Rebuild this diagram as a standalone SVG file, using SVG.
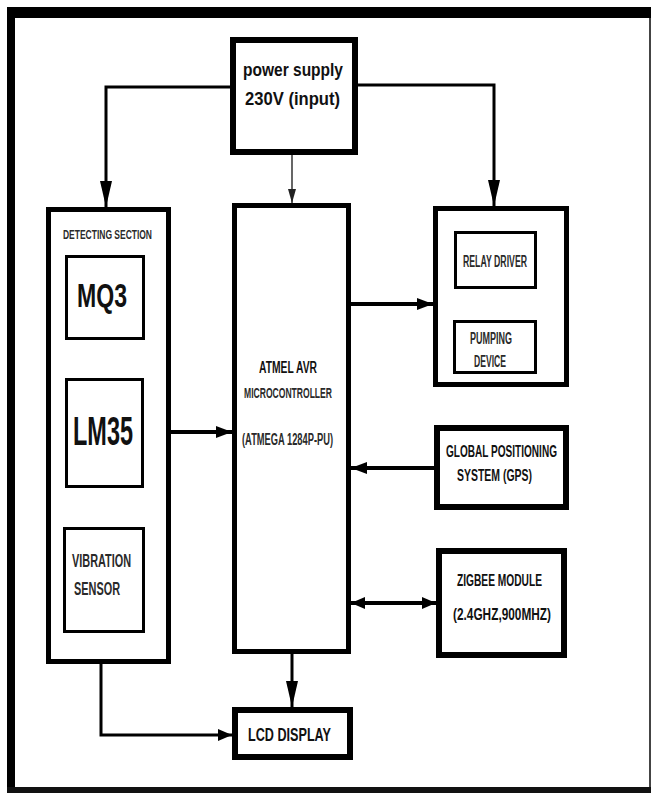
<svg xmlns="http://www.w3.org/2000/svg" width="651" height="793" viewBox="0 0 651 793">
<style>
.box{fill:#fff;stroke:#000}
.t{font-family:"Liberation Sans",Arial,sans-serif;font-weight:bold;fill:#111}
.g{fill:#2a2a2a}
.c{fill:none;stroke:#000}
</style>
<defs>
<marker id="ah" viewBox="0 0 14 12" refX="14" refY="6" markerWidth="14" markerHeight="12" markerUnits="userSpaceOnUse" orient="auto-start-reverse"><path d="M0,0 L14,6 L0,12 Z" fill="#000"/></marker>
<marker id="ahb" viewBox="0 0 16 12" refX="16" refY="6" markerWidth="16" markerHeight="12" markerUnits="userSpaceOnUse" orient="auto"><path d="M0,0 L16,6 L0,12 Z" fill="#000"/></marker>
<marker id="ahs" viewBox="0 0 26 12" refX="26" refY="6" markerWidth="26" markerHeight="12" markerUnits="userSpaceOnUse" orient="auto"><path d="M0,0 L26,6 L0,12 Z" fill="#000"/></marker>
<marker id="aht" viewBox="0 0 14 8" refX="14" refY="4" markerWidth="14" markerHeight="8" markerUnits="userSpaceOnUse" orient="auto"><path d="M0,0 L14,4 L0,8 Z" fill="#222"/></marker>
</defs>
<rect x="0" y="0" width="651" height="793" fill="#fff"/>
<g id="frame">
<rect x="7" y="7" width="644" height="11" fill="#000"/>
<rect x="7" y="7" width="8" height="786" fill="#000"/>
<rect x="649" y="18" width="2" height="770" fill="#444"/>
<rect x="7" y="787" width="644" height="6" fill="#111"/>
</g>
<g id="connectors">
<path class="c" d="M230,87 H106 V207" stroke-width="3" marker-end="url(#ahs)"/>
<path class="c" d="M358,85 H494 V206" stroke-width="3" marker-end="url(#ahs)"/>
<path class="c" d="M292,155 V203" stroke-width="1.2" stroke="#555" marker-end="url(#aht)"/>
<path class="c" d="M171,432 H232" stroke-width="4" marker-end="url(#ahb)"/>
<path class="c" d="M351,304 H433" stroke-width="4" marker-end="url(#ahb)"/>
<path class="c" d="M434,468 H351" stroke-width="4" marker-end="url(#ahb)"/>
<path class="c" d="M351,603 H436" stroke-width="4" marker-start="url(#ah)" marker-end="url(#ah)"/>
<path class="c" d="M292,654 V707" stroke-width="3" marker-end="url(#ahs)"/>
<path class="c" d="M101,664 V735 H232" stroke-width="3" marker-end="url(#ah)"/>
<path class="c" d="M496,289 V320" stroke-width="1.2" stroke="#333" marker-end="url(#aht)"/>
</g>
<g id="power">
<rect class="box" x="233" y="40" width="122" height="112" stroke-width="6"/>
<text class="t" x="243" y="76" font-size="18" textLength="100" lengthAdjust="spacingAndGlyphs">power supply</text>
<text class="t" x="245" y="105" font-size="19" textLength="95" lengthAdjust="spacingAndGlyphs">230V (input)</text>
</g>
<g id="detecting">
<rect class="box" x="48.5" y="209.5" width="120" height="452" stroke-width="5"/>
<text class="t g" x="63" y="239" font-size="13" font-weight="normal" textLength="89" lengthAdjust="spacingAndGlyphs">DETECTING SECTION</text>
</g>
<g id="mq3">
<rect class="box" x="66.5" y="256.5" width="77" height="82" stroke-width="3"/>
<text class="t" x="77" y="307" font-size="33" textLength="50" lengthAdjust="spacingAndGlyphs">MQ3</text>
</g>
<g id="lm35">
<rect class="box" x="66.5" y="379.5" width="76" height="107" stroke-width="3"/>
<text class="t" x="73" y="445" font-size="41" textLength="60" lengthAdjust="spacingAndGlyphs">LM35</text>
</g>
<g id="vibration">
<rect class="box" x="64.5" y="528.5" width="79" height="103" stroke-width="3"/>
<text class="t g" x="72" y="567" font-size="18" textLength="59" lengthAdjust="spacingAndGlyphs">VIBRATION</text>
<text class="t g" x="74" y="595" font-size="18" textLength="46" lengthAdjust="spacingAndGlyphs">SENSOR</text>
</g>
<g id="micro">
<rect class="box" x="234.5" y="205.5" width="114" height="446" stroke-width="5"/>
<text class="t" x="259" y="373" font-size="16" textLength="58" lengthAdjust="spacingAndGlyphs">ATMEL AVR</text>
<text class="t g" x="244" y="398" font-size="15" font-weight="normal" textLength="88" lengthAdjust="spacingAndGlyphs">MICROCONTROLLER</text>
<text class="t g" x="242" y="445" font-size="16" font-weight="normal" textLength="91" lengthAdjust="spacingAndGlyphs">(ATMEGA 1284P-PU)</text>
</g>
<g id="relay-section">
<rect class="box" x="435.5" y="208.5" width="131" height="176" stroke-width="5"/>
</g>
<g id="relay-driver">
<rect class="box" x="455.5" y="232.5" width="80" height="55" stroke-width="3"/>
<text class="t g" x="463" y="267" font-size="16" font-weight="normal" textLength="64" lengthAdjust="spacingAndGlyphs">RELAY DRIVER</text>
</g>
<g id="pumping">
<rect class="box" x="454.5" y="321.5" width="81" height="51" stroke-width="3"/>
<text class="t g" x="470" y="344" font-size="16" font-weight="normal" textLength="42" lengthAdjust="spacingAndGlyphs">PUMPING</text>
<text class="t g" x="474" y="367" font-size="16" font-weight="normal" textLength="32" lengthAdjust="spacingAndGlyphs">DEVICE</text>
</g>
<g id="gps">
<rect class="box" x="437" y="428" width="129" height="79" stroke-width="6"/>
<text class="t" x="446" y="457" font-size="17" textLength="111" lengthAdjust="spacingAndGlyphs">GLOBAL POSITIONING</text>
<text class="t" x="457" y="481" font-size="17" textLength="75" lengthAdjust="spacingAndGlyphs">SYSTEM (GPS)</text>
</g>
<g id="zigbee">
<rect class="box" x="439" y="551" width="125" height="104" stroke-width="6"/>
<text class="t" x="457" y="586" font-size="16" textLength="85" lengthAdjust="spacingAndGlyphs">ZIGBEE MODULE</text>
<text class="t" x="453" y="620" font-size="17" textLength="98" lengthAdjust="spacingAndGlyphs">(2.4GHZ,900MHZ)</text>
</g>
<g id="lcd">
<rect class="box" x="235" y="710" width="115" height="47" stroke-width="6"/>
<text class="t" x="248" y="741" font-size="19" textLength="83" lengthAdjust="spacingAndGlyphs">LCD DISPLAY</text>
</g>
</svg>
